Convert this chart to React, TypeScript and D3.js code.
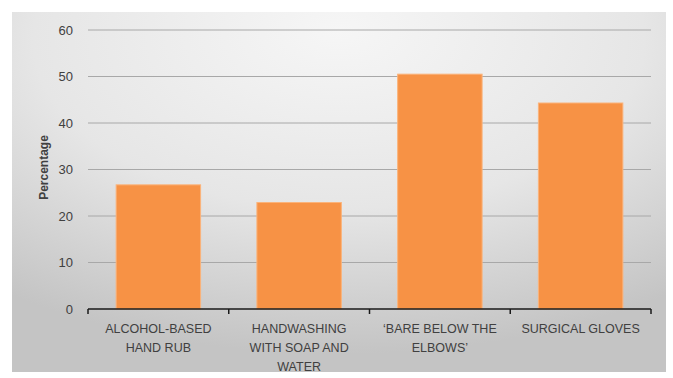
import React from "react";
import * as d3 from "d3";

const categories: string[][] = [
  ["ALCOHOL-BASED", "HAND RUB"],
  ["HANDWASHING", "WITH SOAP AND", "WATER"],
  ["\u2018BARE BELOW THE", "ELBOWS\u2019"],
  ["SURGICAL GLOVES"],
];
const values: number[] = [26.7, 22.9, 50.5, 44.3];
const yTicks: number[] = [0, 10, 20, 30, 40, 50, 60];
const yTitle = "Percentage";

const W = 673;
const H = 378;
const plot = { left: 88, right: 651, top: 30, bottom: 309 };

export default function App() {
  const ids = categories.map((_, i) => String(i));
  const x = d3.scaleBand<string>().domain(ids).range([plot.left, plot.right]).paddingInner(0.4).paddingOuter(0.2);
  const xBound = d3.scaleBand<string>().domain(ids).range([plot.left, plot.right]);
  const y = d3.scaleLinear().domain([0, 60]).range([plot.bottom, plot.top]);
  const font = "'Liberation Sans', Arial, sans-serif";
  return (
    <svg width={W} height={H} style={{ position: "absolute", left: 0, top: 0 }}>
      <defs>
        <radialGradient id="bg" cx="0.5" cy="0.1" r="0.85" fx="0.5" fy="0.05">
          <stop offset="0" stopColor="#f6f6f6" />
          <stop offset="0.55" stopColor="#e6e6e6" />
          <stop offset="1" stopColor="#c4c4c4" />
        </radialGradient>
      </defs>
      <rect x={0} y={0} width={W} height={H} fill="#ffffff" />
      <rect x={12} y={12} width={654} height={360} fill="url(#bg)" />
      {yTicks.filter((t) => t > 0).map((t) => (
        <line key={t} x1={plot.left} x2={plot.right} y1={y(t)} y2={y(t)} stroke="#a8a8a8" strokeWidth={1} />
      ))}
      {yTicks.map((t) => (
        <text key={t} x={73} y={y(t)} dy="0.35em" textAnchor="end" fontFamily={font} fontSize={13} fill="#404040">
          {t}
        </text>
      ))}
      <text
        transform={`translate(48,${(plot.top + plot.bottom) / 2 - 2}) rotate(-90)`}
        textAnchor="middle"
        fontFamily={font}
        fontSize={12}
        fontWeight="bold"
        fill="#404040"
      >
        {yTitle}
      </text>
      {values.map((v, i) => (
        <rect
          key={i}
          x={x(String(i))}
          y={y(v)}
          width={x.bandwidth()}
          height={y(0) - y(v)}
          fill="#f79245"
          stroke="#fbb37a"
          strokeWidth={1}
        />
      ))}
      <line x1={plot.left} x2={plot.right} y1={y(0)} y2={y(0)} stroke="#1a1a1a" strokeWidth={1.5} />
      {ids.map((id) => (
        <line key={id} x1={xBound(id)!} x2={xBound(id)!} y1={y(0)} y2={y(0) + 5} stroke="#1a1a1a" strokeWidth={1.5} />
      ))}
      <line x1={plot.right} x2={plot.right} y1={y(0)} y2={y(0) + 5} stroke="#1a1a1a" strokeWidth={1.5} />
      {categories.map((lines, i) => (
        <text
          key={i}
          x={xBound(String(i))! + xBound.bandwidth() / 2}
          textAnchor="middle"
          fontFamily={font}
          fontSize={12.5}
          fill="#404040"
        >
          {lines.map((l, j) => (
            <tspan key={j} x={xBound(String(i))! + xBound.bandwidth() / 2} y={333 + j * 19}>
              {l}
            </tspan>
          ))}
        </text>
      ))}
    </svg>
  );
}
